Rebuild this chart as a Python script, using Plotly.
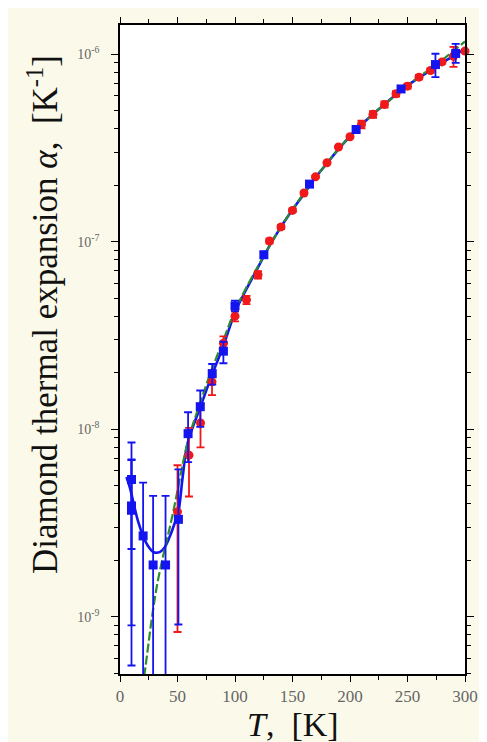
import plotly.graph_objects as go

# ---- data ----
blue_T = [10, 10, 10, 20.1, 28.8, 39.6, 50.8, 59.2, 69.8, 80.2, 89.9, 100, 125.1, 164.8, 205.3, 244.4, 274.3, 291.9]
blue_a = [5.4e-9, 3.9e-9, 3.7e-9, 2.7e-9, 1.89e-9, 1.89e-9, 3.31e-9, 9.48e-9, 1.32e-8, 1.98e-8, 2.61e-8, 4.55e-8,
          8.53e-8, 2.03e-7, 3.97e-7, 6.53e-7, 8.81e-7, 1.01e-6]
blue_err_up = [3.1e-9, 3.0e-9, 3.15e-9, 2.5e-9, 2.52e-9, 2.52e-9, 2.8e-9, 2.85e-9, 2.9e-9, 2.5e-9, 3.2e-9, 3.0e-9,
               3.0e-9, 5e-9, 1e-8, 2e-8, 1.25e-7, 1.25e-7]
blue_err_dn = [3.1e-9, 3.0e-9, 3.15e-9, 2.4e-9, 2.52e-9, 2.52e-9, 2.4e-9, 2.8e-9, 2.9e-9, 2.5e-9, 3.6e-9, 3.0e-9,
               3.0e-9, 5e-9, 1e-8, 2e-8, 1.26e-7, 1.1e-7]

red_T = [50, 60, 70, 80, 90, 100, 110, 120, 130, 140, 150, 160, 170, 180, 190, 200, 210, 220, 230, 240, 250,
         260, 270, 280, 290, 300]
red_a = [3.63e-9, 7.28e-9, 1.08e-8, 1.79e-8, 2.88e-8, 4.01e-8, 4.9e-8, 6.67e-8, 1.01e-7, 1.20e-7, 1.47e-7,
         1.82e-7, 2.22e-7, 2.64e-7, 3.2e-7, 3.63e-7, 4.22e-7, 4.78e-7, 5.40e-7, 6.15e-7, 6.76e-7, 7.55e-7,
         8.19e-7, 9.1e-7, 9.76e-7, 1.04e-6]
red_err = [2.8e-9, 2.9e-9, 2.8e-9, 2.7e-9, 2.5e-9, 2.5e-9, 2.5e-9, 3e-9, 3e-9, 3e-9, 3e-9, 3e-9, 3e-9, 3e-9,
           3e-9, 3e-9, 2e-8, 2e-8, 2e-8, 2e-8, 2e-8, 2e-8, 2e-8, 2e-8, 1.2e-7, 2e-8]

line_T = [5.6, 8.4, 15.4, 20.1, 23.7, 29.3, 34.9, 39.1, 43.3, 47.5, 50.8, 54.5, 58.7, 70, 80, 90, 100, 110,
          120, 130, 140, 150, 160, 170, 180, 190, 200, 210, 220, 230, 240, 250, 260, 270, 280, 290, 300]
line_a = [5.57e-9, 4.93e-9, 3.28e-9, 2.70e-9, 2.42e-9, 2.21e-9, 2.22e-9, 2.36e-9, 2.68e-9, 3.15e-9, 3.63e-9,
          5.57e-9, 8.4e-9, 1.32e-8, 1.95e-8, 2.8e-8, 4.2e-8, 5.6e-8, 7.3e-8, 9.5e-8, 1.2e-7, 1.48e-7, 1.8e-7,
          2.2e-7, 2.62e-7, 3.12e-7, 3.65e-7, 4.2e-7, 4.8e-7, 5.4e-7, 6.1e-7, 6.8e-7, 7.5e-7, 8.2e-7, 9.0e-7,
          9.8e-7, 1.07e-6]

fit_T = [18, 21, 32, 46, 59, 70, 80, 90, 100, 120, 150, 200, 250, 280, 300]
fit_a = [3.6e-10, 4.8e-10, 1.45e-9, 3.56e-9, 8.6e-9, 1.4e-8, 2.1e-8, 3.0e-8, 4.3e-8, 7.4e-8, 1.49e-7, 3.65e-7,
         6.8e-7, 9.3e-7, 1.17e-6]

x_ticks = [0, 50, 100, 150, 200, 250, 300]
y_ticks = [1e-9, 1e-8, 1e-7, 1e-6]
y_ticktext = ["10<sup>-9</sup>", "10<sup>-8</sup>", "10<sup>-7</sup>", "10<sup>-6</sup>"]

BLUE = "#1414F0"
RED = "#F01818"
GREEN = "#2E8B2E"
CREAM = "#FBFAEA"
NB = "\u00a0"

fig = go.Figure()

fig.add_trace(go.Scatter(x=line_T, y=line_a, mode="lines", line=dict(color=BLUE, width=2.6, shape="spline"),
                         showlegend=False, hoverinfo="skip"))
fig.add_trace(go.Scatter(x=fit_T, y=fit_a, mode="lines",
                         line=dict(color=GREEN, width=2.2, dash="9px,3px", shape="spline"),
                         showlegend=False, hoverinfo="skip"))
fig.add_trace(go.Scatter(x=red_T, y=red_a, mode="markers", cliponaxis=False,
                         marker=dict(symbol="circle", size=9, color=RED),
                         error_y=dict(type="data", symmetric=True, array=red_err, color=RED, thickness=1.8, width=4),
                         showlegend=False))
fig.add_trace(go.Scatter(x=blue_T, y=blue_a, mode="markers", cliponaxis=False,
                         marker=dict(symbol="square", size=9, color=BLUE),
                         error_y=dict(type="data", symmetric=False, array=blue_err_up, arrayminus=blue_err_dn,
                                      color=BLUE, thickness=1.8, width=4),
                         showlegend=False))

axis_common = dict(showline=True, linecolor="black", linewidth=1.5, mirror="allticks", ticks="outside",
                   tickcolor="black", tickwidth=1.3, showgrid=False, zeroline=False)

fig.update_xaxes(range=[0, 300], tickvals=x_ticks, ticklen=6,
                 tickfont=dict(family="Liberation Serif", size=17, color="#666"),
                 minor=dict(tickvals=[25, 75, 125, 175, 225, 275], ticklen=4, ticks="outside",
                            tickcolor="black", tickwidth=1.2),
                 **axis_common)

minor_y = [k * 10.0 ** n for n in range(-10, -5) for k in range(2, 10)]
fig.update_yaxes(type="log", range=[-9.305, -5.844], tickvals=y_ticks, ticktext=y_ticktext, ticklen=7,
                 ticklabelstandoff=9,
                 tickfont=dict(family="Liberation Serif", size=14, color="#666"),
                 minor=dict(tickvals=minor_y, ticklen=4, ticks="outside", tickcolor="black", tickwidth=1.2),
                 **axis_common)

fig.update_layout(
    width=479, height=734,
    margin=dict(l=112, r=9, t=15, b=68),
    paper_bgcolor=CREAM, plot_bgcolor="white",
    font=dict(family="Liberation Serif", color="black"),
    annotations=[
        dict(text="Diamond thermal expansion <i>α</i>," + NB + NB + "[K<sup>-1</sup>]", textangle=-90,
             xref="paper", yref="paper", x=-0.2235, y=0.5545, xanchor="center", yanchor="middle",
             showarrow=False, font=dict(family="Liberation Serif", size=35, color="#111")),
        dict(text="<i>T</i>," + NB + NB + "[K]", xref="paper", yref="paper", x=0.5, y=-0.078,
             xanchor="center", yanchor="middle", showarrow=False,
             font=dict(family="Liberation Serif", size=34, color="#111")),
    ],
)

fig.write_html("out.html")
